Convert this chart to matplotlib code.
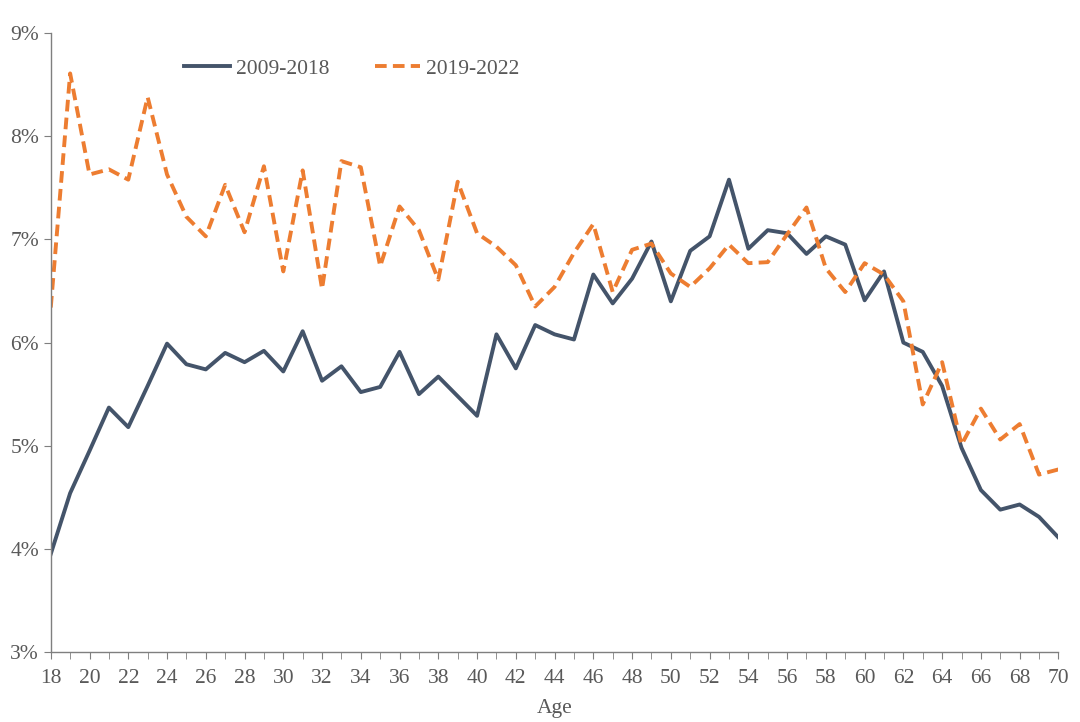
import matplotlib
matplotlib.use('Agg')
import matplotlib.pyplot as plt
from matplotlib.ticker import MultipleLocator, FuncFormatter

plt.rcParams['font.family'] = ['Liberation Serif', 'DejaVu Serif']

ages = list(range(18, 71))

# share by age, in percent
s_2009_2018 = [3.95, 4.54, 4.95, 5.37, 5.18, 5.58, 5.99, 5.79, 5.74, 5.90,
               5.81, 5.92, 5.72, 6.11, 5.63, 5.77, 5.52, 5.57, 5.91, 5.50,
               5.67, 5.48, 5.29, 6.08, 5.75, 6.17, 6.08, 6.03, 6.66, 6.38,
               6.62, 6.98, 6.40, 6.89, 7.03, 7.58, 6.91, 7.09, 7.06, 6.86,
               7.03, 6.95, 6.41, 6.69, 6.00, 5.91, 5.58, 4.98, 4.57, 4.38,
               4.43, 4.31, 4.11]
s_2019_2022 = [6.34, 8.61, 7.63, 7.68, 7.58, 8.38, 7.63, 7.22, 7.03, 7.53,
               7.07, 7.71, 6.69, 7.67, 6.52, 7.76, 7.70, 6.74, 7.32, 7.09,
               6.61, 7.56, 7.06, 6.93, 6.75, 6.35, 6.54, 6.87, 7.15, 6.49,
               6.90, 6.96, 6.67, 6.54, 6.72, 6.95, 6.77, 6.78, 7.05, 7.31,
               6.72, 6.49, 6.77, 6.66, 6.40, 5.40, 5.81, 5.01, 5.36, 5.06,
               5.21, 4.72, 4.77]

grey = '#595959'
fig = plt.figure(figsize=(10.8, 7.22), dpi=100)
ax = fig.add_axes([0.047, 0.097, 0.933, 0.857])

ax.plot(ages, s_2009_2018, color='#44546A', lw=2.8, label='2009-2018')
ax.plot(ages, s_2019_2022, color='#ED7D31', lw=2.8, ls=(0, (3, 1.6)), label='2019-2022')

ax.set_xlim(18, 70)
ax.set_ylim(3, 9)
ax.xaxis.set_major_locator(MultipleLocator(2))
ax.xaxis.set_minor_locator(MultipleLocator(1))
ax.yaxis.set_major_locator(MultipleLocator(1))
ax.yaxis.set_major_formatter(FuncFormatter(lambda v, p: '%d%%' % v))

for side in ['top', 'right']:
    ax.spines[side].set_visible(False)
for side in ['left', 'bottom']:
    ax.spines[side].set_color('#7f7f7f')
    ax.spines[side].set_linewidth(1.0)

ax.tick_params(which='both', direction='out', length=5, color='#7f7f7f',
               labelsize=15.5, labelcolor=grey)
ax.tick_params(axis='x', pad=7)
ax.set_xlabel('Age', fontsize=15.5, color=grey, labelpad=8)

ax.legend(loc='center', bbox_to_anchor=(0.299, 0.943), ncol=2, frameon=False,
          fontsize=15.5, labelcolor=grey, handlelength=2.1, handletextpad=0.3,
          columnspacing=2.1)

fig.savefig('out.png', dpi=100)
